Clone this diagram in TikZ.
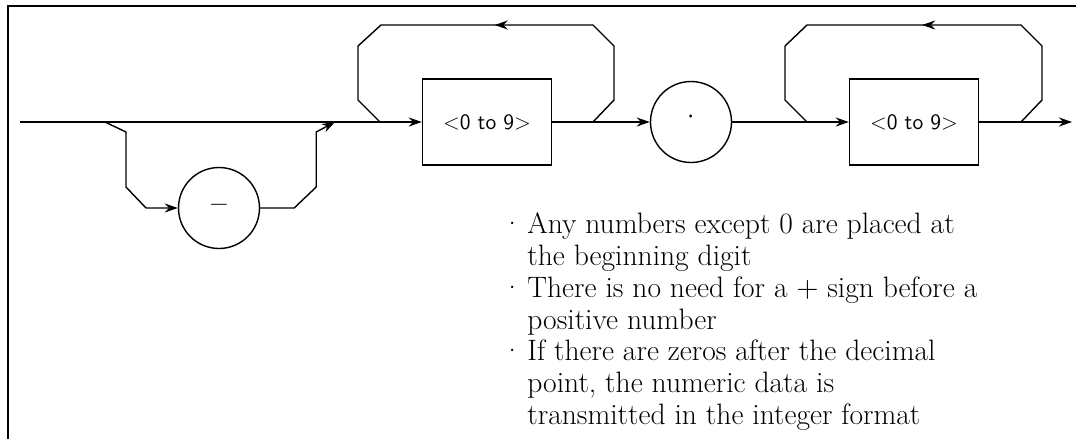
\documentclass[tikz,border=0pt]{standalone}
\usetikzlibrary{arrows.meta,positioning,decorations.markings}
\newcommand{\bul}{\textperiodcentered\hspace{0.15em}}

\begin{document}
\begin{tikzpicture}[x=0.2mm,y=-0.2mm,line width=0.8pt,
    >={Stealth[length=2.6mm,width=1.8mm]},
    digbox/.style={draw,minimum width=25.8mm,minimum height=17.2mm,
        font=\sffamily\fontsize{12.5}{14}\selectfont},
    sym/.style={draw,circle,minimum size=16.2mm,inner sep=0pt},
    midarrow/.style={postaction={decorate},decoration={markings,
        mark=at position #1 with {\arrow{Stealth[length=2.6mm,width=1.8mm]}}}}]
  \useasboundingbox (0,0) rectangle (1076,439);
  %% frame
  \draw[line width=1pt] (8,439) -- (8,6) -- (1076,6);
  %% nodes on the main line
  \coordinate (start) at (20,122);
  \node[digbox] (digA) at (487,122) {<0 to 9>};
  \node[sym,font=\fontsize{20}{20}\selectfont] (point) at (691,122) {\textperiodcentered};
  \node[digbox] (digB) at (914,122) {<0 to 9>};
  \coordinate (finish) at (1072,122);
  \node[sym,font=\fontsize{16}{16}\selectfont\bfseries] (minus) at (219,208) {--};
  \draw[->] (start) -- (digA);
  \draw[->] (digA) -- (point);
  \draw[->] (point) -- (digB);
  \draw[->] (digB) -- (finish);
  %% optional minus sign
  \coordinate (sgnIn) at (105,122);
  \coordinate (sgnOut) at (335,122);
  \draw[->] (sgnIn) -- ++(21,10) -- ++(0,55) -- ++(20,21) -- (minus);
  \draw[->] (minus.east) -- ++(34,0) -- ++(22,-21) -- ++(0,-55) -- (sgnOut);
  %% repeat loops
  \coordinate (loopAa) at (593,122);
  \coordinate (loopAb) at (380,122);
  \draw[midarrow=0.48] (loopAa) -- ++(21,-22) -- ++(0,-54) -- ++(-21,-21)
     -- ++(-212,0) -- ++(-23,21) -- ++(0,54) -- (loopAb);
  \coordinate (loopBa) at (1021,122);
  \coordinate (loopBb) at (807,122);
  \draw[midarrow=0.48] (loopBa) -- ++(21,-22) -- ++(0,-54) -- ++(-21,-21)
     -- ++(-214,0) -- ++(-22,21) -- ++(0,54) -- (loopBb);
  %% notes
  \node[anchor=north west,align=left,inner sep=0pt,
        font=\fontsize{16.8}{18.1}\selectfont] (notes) at (501,212)
    {\bul Any numbers except 0 are placed at\\
     \phantom{\bul}the beginning digit\\
     \bul There is no need for a $+$ sign before a\\
     \phantom{\bul}positive number\\
     \bul If there are zeros after the decimal\\
     \phantom{\bul}point, the numeric data is\\
     \phantom{\bul}transmitted in the integer format};
\end{tikzpicture}
\end{document}
